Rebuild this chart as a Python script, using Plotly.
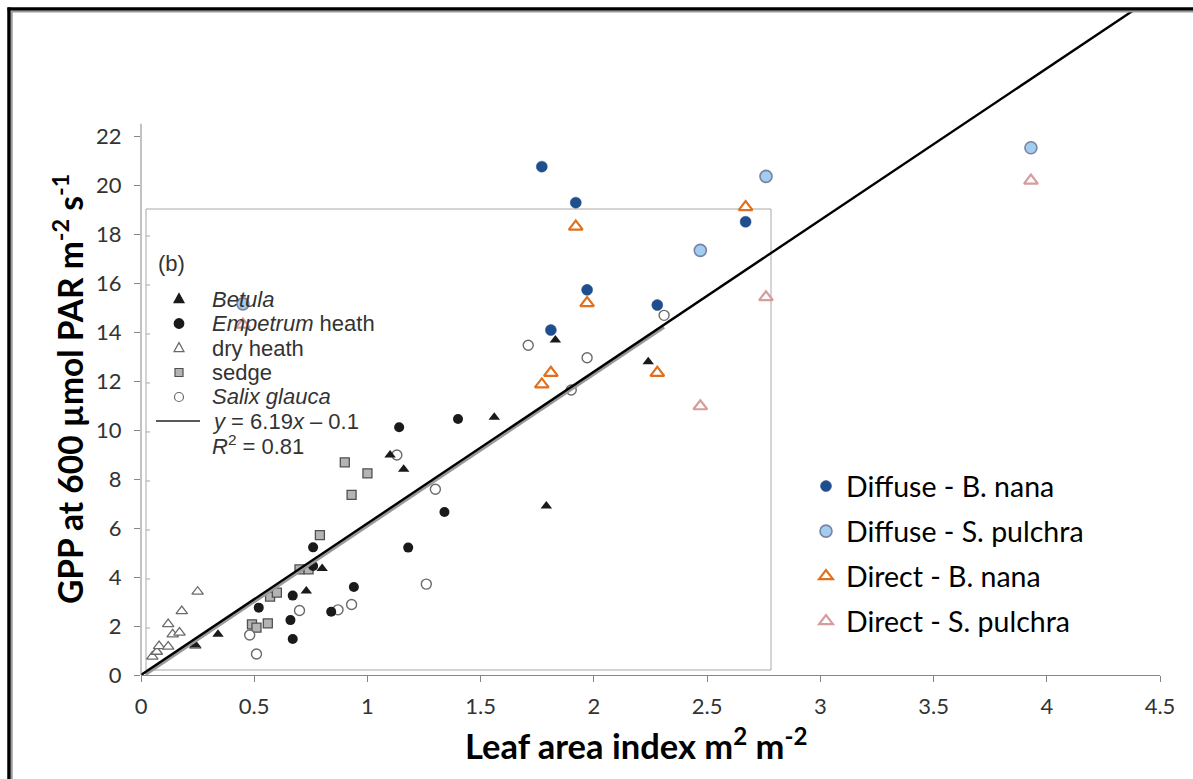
import plotly.graph_objects as go

# ---- Canopy GPP at 600 umol PAR vs leaf area index (this study) ----
diffuse_bnana_lai = [1.77, 1.92, 1.97, 1.81, 2.28, 2.67]
diffuse_bnana_gpp = [20.75, 19.28, 15.72, 14.08, 15.10, 18.50]

diffuse_spulchra_lai = [0.45, 2.47, 2.76, 3.93]
diffuse_spulchra_gpp = [15.15, 17.33, 20.35, 21.52]

direct_bnana_lai = [1.92, 1.97, 1.81, 1.77, 2.28, 2.67]
direct_bnana_gpp = [18.30, 15.18, 12.33, 11.86, 12.33, 19.10]

direct_spulchra_lai = [0.45, 2.47, 2.76, 3.93]
direct_spulchra_gpp = [14.30, 10.97, 15.42, 20.18]

# ---- Published comparison panel (b): vegetation types ----
betula_lai = [0.24, 0.34, 0.73, 0.80, 1.10, 1.16, 1.56, 1.79, 1.83, 2.24]
betula_gpp = [1.22, 1.66, 3.43, 4.35, 8.98, 8.40, 10.52, 6.90, 13.67, 12.79]

empetrum_lai = [0.52, 0.66, 0.67, 0.67, 0.76, 0.76, 0.84, 0.94, 1.14, 1.18, 1.34, 1.40]
empetrum_gpp = [2.75, 2.24, 1.47, 3.24, 5.21, 4.45, 2.58, 3.59, 10.11, 5.20, 6.65, 10.45]

dryheath_lai = [0.05, 0.07, 0.08, 0.12, 0.12, 0.14, 0.17, 0.18, 0.24, 0.25]
dryheath_gpp = [0.75, 0.95, 1.18, 1.16, 2.08, 1.66, 1.73, 2.61, 1.20, 3.40]

sedge_lai = [0.49, 0.51, 0.56, 0.57, 0.60, 0.70, 0.74, 0.79, 0.90, 0.93, 1.00]
sedge_gpp = [2.07, 1.93, 2.11, 3.20, 3.36, 4.31, 4.31, 5.71, 8.68, 7.35, 8.23]

salix_lai = [0.48, 0.51, 0.70, 0.87, 0.93, 1.13, 1.26, 1.30, 1.71, 1.90, 1.97, 2.31]
salix_gpp = [1.63, 0.86, 2.63, 2.66, 2.88, 8.98, 3.71, 7.58, 13.46, 11.63, 12.95, 14.68]

# regression of panel (b): y = 6.19x - 0.1, fitted over LAI 0.02-2.31
fit_slope = 6.19
fit_intercept = -0.1
fit_lai = [0.02, 2.31]
# same slope drawn across the whole chart
trend_lai = [0.0, 4.5]

x_ticks = [0, 0.5, 1, 1.5, 2, 2.5, 3, 3.5, 4, 4.5]
y_ticks = [0, 2, 4, 6, 8, 10, 12, 14, 16, 18, 20, 22]

# ---- page geometry (pixels) ----
W, H = 1193, 779
ML, MR, MT, MB = 141, 33, 12, 104
PW, PH = W - ML - MR, H - MT - MB
PX_PER_GPP = 24.5
Y_MAX = PH / PX_PER_GPP


def fx(p):
    return (p - ML) / PW


def fy(p):
    return (H - MB - p) / PH


AXIS_GREY = "#868686"
INSET_FONT = "Liberation Sans, Arial, sans-serif"
MAIN_FONT = "Lato, Open Sans, sans-serif"

fig = go.Figure()

# panel (b) vegetation types
fig.add_trace(go.Scatter(x=dryheath_lai, y=dryheath_gpp, mode="markers", showlegend=False,
                         marker=dict(symbol="triangle-up", size=10, color="white",
                                     line=dict(color="#6a6a6a", width=1.3))))
fig.add_trace(go.Scatter(x=sedge_lai, y=sedge_gpp, mode="markers", showlegend=False,
                         marker=dict(symbol="square", size=9, color="#b4b4b4",
                                     line=dict(color="#505050", width=1.3))))
fig.add_trace(go.Scatter(x=salix_lai, y=salix_gpp, mode="markers", showlegend=False,
                         marker=dict(symbol="circle", size=10, color="white",
                                     line=dict(color="#6a6a6a", width=1.4))))
fig.add_trace(go.Scatter(x=empetrum_lai, y=empetrum_gpp, mode="markers", showlegend=False,
                         marker=dict(symbol="circle", size=10, color="#1a1a1a")))
fig.add_trace(go.Scatter(x=betula_lai, y=betula_gpp, mode="markers", showlegend=False,
                         marker=dict(symbol="triangle-up", size=10, color="#1a1a1a")))

# regression lines
fig.add_trace(go.Scatter(x=fit_lai, y=[fit_slope * v + fit_intercept for v in fit_lai],
                         mode="lines", showlegend=False, hoverinfo="skip",
                         line=dict(color="#999999", width=3.2)))
fig.add_trace(go.Scatter(x=trend_lai, y=[fit_slope * v for v in trend_lai],
                         mode="lines", showlegend=False, hoverinfo="skip",
                         line=dict(color="black", width=2.4)))

# this study
fig.add_trace(go.Scatter(x=diffuse_bnana_lai, y=diffuse_bnana_gpp, mode="markers",
                         name="Diffuse - B. nana", legendgroup="a",
                         marker=dict(symbol="circle", size=11, color="#1f4e8c",
                                     line=dict(color="#1f4e8c", width=0.5))))
fig.add_trace(go.Scatter(x=diffuse_spulchra_lai, y=diffuse_spulchra_gpp, mode="markers",
                         name="Diffuse - S. pulchra", legendgroup="b",
                         marker=dict(symbol="circle", size=12, color="#a3cdee",
                                     line=dict(color="#7883a6", width=1.6))))
fig.add_trace(go.Scatter(x=direct_bnana_lai, y=direct_bnana_gpp, mode="markers",
                         name="Direct - B. nana", legendgroup="c",
                         marker=dict(symbol="triangle-up", size=12, color="white",
                                     line=dict(color="#e0701e", width=2.2))))
fig.add_trace(go.Scatter(x=direct_spulchra_lai, y=direct_spulchra_gpp, mode="markers",
                         name="Direct - S. pulchra", legendgroup="d",
                         marker=dict(symbol="triangle-up", size=12, color="white",
                                     line=dict(color="#d79c9c", width=2.2))))

shapes = []
# panel (b) box
shapes.append(dict(type="rect", xref="paper", yref="paper", layer="below",
                   x0=fx(146), x1=fx(771), y0=fy(670), y1=fy(209),
                   fillcolor="white", line=dict(color="#a8a8a8", width=1)))
# panel (b) y ticks
for v in range(2, 20, 2):
    shapes.append(dict(type="line", xref="paper", yref="y", x0=fx(146), x1=fx(150),
                       y0=v - 0.08, y1=v - 0.08, line=dict(color="#a8a8a8", width=1)))
# y axis line up to 22.5
shapes.append(dict(type="line", xref="paper", yref="y", x0=0, x1=0, y0=0, y1=22.5,
                   line=dict(color=AXIS_GREY, width=1)))
# outer frame
shapes.append(dict(type="line", xref="paper", yref="paper", x0=fx(9), x1=fx(9),
                   y0=fy(7.5), y1=fy(790), line=dict(color="black", width=3.5)))
shapes.append(dict(type="line", xref="paper", yref="paper", x0=fx(7.5), x1=fx(1200),
                   y0=fy(9), y1=fy(9), line=dict(color="black", width=3.5)))
shapes.append(dict(type="line", xref="paper", yref="paper", x0=fx(11.8), x1=fx(11.8),
                   y0=fy(10.8), y1=fy(790), line=dict(color="#9a9a9a", width=1.8)))
shapes.append(dict(type="line", xref="paper", yref="paper", x0=fx(10.8), x1=fx(1200),
                   y0=fy(11.6), y1=fy(11.6), line=dict(color="#9a9a9a", width=1.8)))

# panel (b) legend keys
KEY_X = 179
rows = [299, 323.5, 348, 372.5, 397, 421, 445]


def key_circle(cy, fill, edge, r):
    return dict(type="circle", xref="paper", yref="paper", xsizemode="pixel", ysizemode="pixel",
                xanchor=fx(KEY_X), yanchor=fy(cy), x0=-r, x1=r, y0=-r, y1=r,
                fillcolor=fill, line=dict(color=edge, width=1.2))


def key_square(cy, fill, edge, r):
    return dict(type="rect", xref="paper", yref="paper", xsizemode="pixel", ysizemode="pixel",
                xanchor=fx(KEY_X), yanchor=fy(cy), x0=-r, x1=r, y0=-r, y1=r,
                fillcolor=fill, line=dict(color=edge, width=1.2))


def key_triangle(cy, fill, edge):
    return dict(type="path", xref="paper", yref="paper", xsizemode="pixel", ysizemode="pixel",
                xanchor=fx(KEY_X), yanchor=fy(cy), path="M-5,-3.6 L5,-3.6 L0,5.4 Z",
                fillcolor=fill, line=dict(color=edge, width=1.2))


shapes.append(key_triangle(rows[0], "#1a1a1a", "#1a1a1a"))
shapes.append(key_circle(rows[1], "#1a1a1a", "#1a1a1a", 4.8))
shapes.append(key_triangle(rows[2], "white", "#6a6a6a"))
shapes.append(key_square(rows[3], "#b4b4b4", "#505050", 4))
shapes.append(key_circle(rows[4], "white", "#6a6a6a", 4.5))
shapes.append(dict(type="line", xref="paper", yref="paper", x0=fx(156), x1=fx(200),
                   y0=fy(rows[5]), y1=fy(rows[5]), line=dict(color="#222222", width=1.5)))

inset_labels = [
    "<i>Betula</i>",
    "<i>Empetrum</i> heath",
    "dry heath",
    "sedge",
    "<i>Salix glauca</i>",
    "<i>y</i> = 6.19<i>x</i> \u2013 0.1",
    "<i>R</i><sup>2</sup> = 0.81",
]

annotations = []
annotations.append(dict(text="(b)", xref="paper", yref="paper", x=fx(156), y=fy(263),
                        xanchor="left", yanchor="middle", showarrow=False,
                        font=dict(family=INSET_FONT, size=22, color="#333333")))
for lab, cy in zip(inset_labels, rows):
    annotations.append(dict(text=lab, xref="paper", yref="paper", x=fx(210), y=fy(cy),
                            xanchor="left", yanchor="middle", showarrow=False,
                            font=dict(family=INSET_FONT, size=22, color="#333333")))

# axis titles
annotations.append(dict(text="<b>Leaf area index m<sup>2</sup> m<sup>-2</sup></b>",
                        xref="paper", yref="paper", x=fx(636), y=fy(743),
                        xanchor="center", yanchor="middle", showarrow=False,
                        font=dict(family=MAIN_FONT, size=34.5, color="black")))
annotations.append(dict(text="<b>GPP at 600 \u00b5mol PAR m<sup>-2</sup> s<sup>-1</sup></b>",
                        xref="paper", yref="paper", x=fx(68), y=fy(389), textangle=-90,
                        xanchor="center", yanchor="middle", showarrow=False,
                        font=dict(family=MAIN_FONT, size=33.5, color="black")))

fig.update_layout(
    width=W, height=H,
    margin=dict(l=ML, r=MR, t=MT, b=MB, pad=0),
    paper_bgcolor="white", plot_bgcolor="white",
    shapes=shapes, annotations=annotations,
    legend=dict(x=fx(806), y=fy(461), xanchor="left", yanchor="top",
                font=dict(family=MAIN_FONT, size=28.5, color="black"),
                tracegroupgap=5, bgcolor="rgba(0,0,0,0)"),
    xaxis=dict(range=[0, 4.5], tickvals=x_ticks, showgrid=False, zeroline=False,
               showline=True, linecolor=AXIS_GREY, linewidth=1,
               ticks="outside", ticklen=6, tickcolor=AXIS_GREY, tickwidth=1,
               ticklabelstandoff=6,
               tickfont=dict(family=MAIN_FONT, size=22, color="#333333")),
    yaxis=dict(range=[0, Y_MAX], tickvals=y_ticks, showgrid=False, zeroline=False,
               showline=False, ticks="outside", ticklen=6, tickcolor=AXIS_GREY, tickwidth=1,
               ticklabelstandoff=8,
               tickfont=dict(family=MAIN_FONT, size=22, color="#333333")),
)

fig.write_html("out.html")
